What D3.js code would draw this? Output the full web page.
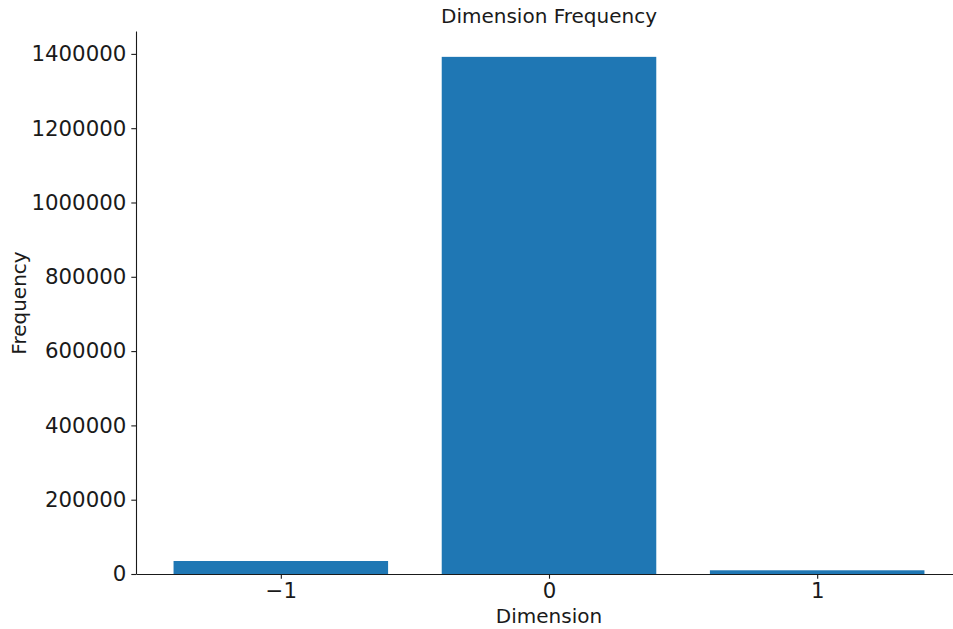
<!DOCTYPE html>
<html><head><meta charset="utf-8">
<script src="https://cdn.jsdelivr.net/npm/d3@7"></script>
<style>body{margin:0;background:#fff}svg{display:block}text{font-family:"DejaVu Sans",sans-serif;fill:#1a1a1a}</style>
</head><body>
<svg id="c" width="953" height="629"></svg>
<script>
const categories = [-1, 0, 1];
const values = [35000, 1392000, 10000];
const yTicks = [0, 200000, 400000, 600000, 800000, 1000000, 1200000, 1400000];
const xTicks = [-1, 0, 1];

const svg = d3.select("#c");
const x = d3.scaleLinear().domain([-1.54, 1.54]).range([136, 962]);
const y = d3.scaleLinear().domain([0, 1461600]).range([574, 31]);
const barW = 0.8;

svg.append("g").selectAll("rect").data(categories).join("rect")
  .attr("x", (d) => x(d - barW/2))
  .attr("width", (d) => x(d + barW/2) - x(d - barW/2))
  .attr("y", (d,i) => y(values[i]))
  .attr("height", (d,i) => y(0) - y(values[i]))
  .attr("fill", "#1f77b4");

const fmt = (d) => d < 0 ? "\u2212" + Math.abs(d) : String(d);
const xa = svg.append("g").attr("transform", "translate(0,574)")
  .call(d3.axisBottom(x).tickValues(xTicks).tickFormat(fmt).tickSizeInner(4.7).tickSizeOuter(0).tickPadding(4));
const ya = svg.append("g").attr("transform", "translate(136,0)")
  .call(d3.axisLeft(y).tickValues(yTicks).tickFormat(d3.format("d")).tickSizeInner(4.7).tickSizeOuter(0).tickPadding(5));
[xa, ya].forEach(a => {
  a.selectAll("path").attr("stroke", "#1a1a1a").attr("stroke-width", 1.1);
  a.selectAll("line").attr("stroke", "#1a1a1a").attr("stroke-width", 1.1);
  a.selectAll("text").attr("font-size", "21.3px").attr("font-family", "DejaVu Sans").attr("fill", "#1a1a1a");
});
xa.selectAll("text").attr("dy", "0.72em");

svg.append("text").attr("x", 549).attr("y", 23).attr("text-anchor", "middle").attr("font-size", "20px").text("Dimension Frequency");
svg.append("text").attr("x", 549).attr("y", 623).attr("text-anchor", "middle").attr("font-size", "20px").text("Dimension");
svg.append("text").attr("transform", "translate(26,303) rotate(-90)").attr("text-anchor", "middle").attr("font-size", "20px").text("Frequency");
</script>
</body></html>
